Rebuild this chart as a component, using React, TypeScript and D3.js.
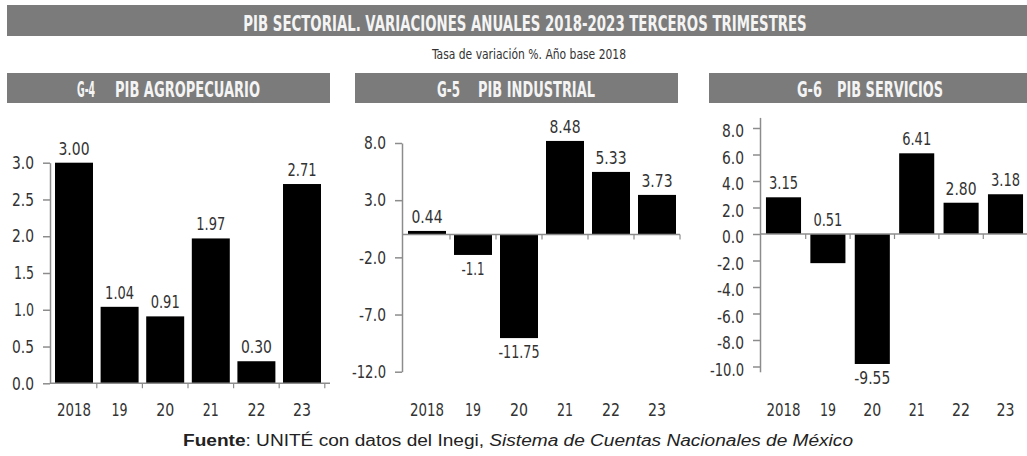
import * as d3 from "d3";
import React, { useRef, useEffect } from "react";

// data
const years = ["2018", "19", "20", "21", "22", "23"];

const agroBars = [3.0, 1.04, 0.91, 1.97, 0.3, 2.71];
const agroLabels = ["3.00", "1.04", "0.91", "1.97", "0.30", "2.71"];
const agroTicks = [0, 0.5, 1, 1.5, 2, 2.5, 3];

// bar heights as drawn in the picture (labels differ in places)
const indBars = [0.31, -1.79, -9.06, 8.18, 5.47, 3.46];
const indLabels = ["0.44", "-1.1", "-11.75", "8.48", "5.33", "3.73"];
const indTicks = [8, 3, -2, -7, -12];

const servBars = [2.77, -2.2, -9.81, 6.09, 2.36, 3.0];
const servLabels = ["3.15", "0.51", "-9.55", "6.41", "2.80", "3.18"];
const servTicks = [8, 6, 4, 2, 0, -2, -4, -6, -8, -10];

const headerCodes = ["G-4", "G-5", "G-6"];
const headerTitles = ["PIB AGROPECUARIO", "PIB INDUSTRIAL", "PIB SERVICIOS"];

const title = "PIB SECTORIAL. VARIACIONES ANUALES 2018-2023 TERCEROS TRIMESTRES";
const subtitle = "Tasa de variación %. Año base 2018";

const NARROW = "'Liberation Sans Narrow', 'DejaVu Sans Condensed', 'DejaVu Sans', sans-serif";
const GRAY = "#7b7b7b";

// rough width of a number in the condensed face of the original
const numWidth = (s: string) =>
  s.split("").reduce((w, c) => w + (c === "." ? 4 : c === "-" ? 5 : c === "1" ? 7 : 9), 0);

export default function App() {
  const ref = useRef<SVGSVGElement>(null);
  const width = 1027;
  const height = 456;

  useEffect(() => {
    const svg = d3.select(ref.current);
    svg.selectAll("*").remove();

    svg.append("rect").attr("width", width).attr("height", height).attr("fill", "#fff");

    // main title bar, text squeezed to the width of the original with a scale
    svg.append("rect").attr("x", 7).attr("y", 5).attr("width", width - 7).attr("height", 31).attr("fill", GRAY);
    const titleText = svg.append("text")
      .attr("text-anchor", "middle")
      .style("font-family", NARROW).style("font-stretch", "condensed")
      .style("font-weight", "bold").style("font-size", "21px")
      .attr("fill", "#f4f4f4")
      .text(title);
    const natural = (titleText.node() as SVGTextElement).getComputedTextLength() || 564;
    titleText.attr("transform", `translate(525,30.5) scale(${564 / natural},1)`);

    svg.append("text")
      .attr("x", 529).attr("y", 59)
      .attr("text-anchor", "middle")
      .attr("textLength", 194).attr("lengthAdjust", "spacingAndGlyphs")
      .style("font-family", NARROW).style("font-stretch", "condensed").style("font-size", "14px")
      .attr("fill", "#333")
      .text(subtitle);

    // panel headers
    const headers = [
      { x0: 7, x1: 330, codeX: [77, 95], titleX: [115, 260] },
      { x0: 355, x1: 678, codeX: [437, 460], titleX: [478, 595] },
      { x0: 709, x1: 1027, codeX: [797, 822], titleX: [837, 943] },
    ];
    headers.forEach((h, i) => {
      svg.append("rect").attr("x", h.x0).attr("y", 73).attr("width", h.x1 - h.x0).attr("height", 30).attr("fill", GRAY);
      svg.append("text")
        .attr("x", h.codeX[0]).attr("y", 97)
        .attr("textLength", h.codeX[1] - h.codeX[0]).attr("lengthAdjust", "spacingAndGlyphs")
        .style("font-family", NARROW).style("font-stretch", "condensed")
        .style("font-weight", "bold").style("font-size", "21px")
        .attr("fill", "#f4f4f4")
        .text(headerCodes[i]);
      svg.append("text")
        .attr("x", h.titleX[0]).attr("y", 97)
        .attr("textLength", h.titleX[1] - h.titleX[0]).attr("lengthAdjust", "spacingAndGlyphs")
        .style("font-family", NARROW).style("font-stretch", "condensed")
        .style("font-weight", "bold").style("font-size", "21px")
        .attr("fill", "#f4f4f4")
        .text(headerTitles[i]);
    });

    // panels
    const panels = [
      { bars: agroBars, labels: agroLabels, ticks: agroTicks, axisX: 50, band: [51.2, 324.8], pad: 0.167,
        domain: [0, 3], range: [383.3, 162.7], axisEnd: 330, labelShift: 0 },
      { bars: indBars, labels: indLabels, ticks: indTicks, axisX: 402, band: [404, 680], pad: 0.174,
        domain: [-12, 8], range: [371.7, 143], axisEnd: 680, labelShift: 0 },
      { bars: servBars, labels: servLabels, ticks: servTicks, axisX: 760, band: [761.3, 1027.7], pad: 0.21,
        domain: [-10.4, 8.8], range: [371.8, 117.4], axisEnd: 1027, labelShift: 3 },
    ];

    panels.forEach((p) => {
      const x = d3.scaleBand<string>().domain(years).range(p.band as [number, number])
        .paddingInner(p.pad).paddingOuter(p.pad / 2);
      const y = d3.scaleLinear().domain(p.domain).range(p.range);
      const g = svg.append("g");

      // y axis
      const yAxis = d3.axisLeft(y).tickValues(p.ticks).tickFormat((d) => (+d).toFixed(1))
        .tickSize(7).tickSizeOuter(0).tickPadding(9);
      const ya = g.append("g").attr("transform", `translate(${p.axisX},0)`).call(yAxis);
      ya.select(".domain").attr("stroke", "#8c8c8c").attr("stroke-width", 1.5);
      ya.selectAll(".tick line").attr("stroke", "#8c8c8c").attr("stroke-width", 1.5);
      ya.selectAll<SVGTextElement, number>(".tick text")
        .attr("dy", `${0.32 + p.labelShift / 18}em`)
        .attr("textLength", (d) => numWidth(d.toFixed(1))).attr("lengthAdjust", "spacingAndGlyphs")
        .style("font-family", NARROW).style("font-stretch", "condensed").style("font-size", "18px")
        .attr("fill", "#333");

      // bars
      g.selectAll("rect.bar").data(p.bars).enter().append("rect")
        .attr("class", "bar")
        .attr("x", (d, i) => x(years[i]) as number)
        .attr("width", x.bandwidth())
        .attr("y", (d) => y(Math.max(0, d)))
        .attr("height", (d) => Math.abs(y(d) - y(0)))
        .attr("fill", "#000");

      // zero line and category ticks
      const y0 = y(0);
      g.append("line").attr("x1", p.axisX).attr("x2", p.axisEnd).attr("y1", y0).attr("y2", y0)
        .attr("stroke", "#8c8c8c").attr("stroke-width", 1.5);
      const bounds = years.map((yr) => (x(yr) as number) - (x.step() * p.pad) / 2 + x.step());
      g.selectAll("line.cat").data(bounds).enter().append("line")
        .attr("x1", (d) => d).attr("x2", (d) => d)
        .attr("y1", y0).attr("y2", y0 + 5)
        .attr("stroke", "#8c8c8c").attr("stroke-width", 1.2);

      // value labels
      g.selectAll("text.val").data(p.labels).enter().append("text")
        .attr("x", (d, i) => (x(years[i]) as number) + x.bandwidth() / 2)
        .attr("y", (d, i) => (+d >= 0 ? y(Math.max(0, p.bars[i])) - 8 : y(Math.min(0, p.bars[i])) + 20))
        .attr("text-anchor", "middle")
        .attr("textLength", (d) => numWidth(d)).attr("lengthAdjust", "spacingAndGlyphs")
        .style("font-family", NARROW).style("font-stretch", "condensed").style("font-size", "18px")
        .attr("fill", "#333")
        .text((d) => d);

      // year labels
      g.selectAll("text.yr").data(years).enter().append("text")
        .attr("x", (d) => (x(d) as number) + x.bandwidth() / 2)
        .attr("y", 416)
        .attr("text-anchor", "middle")
        .attr("textLength", (d) => numWidth(d)).attr("lengthAdjust", "spacingAndGlyphs")
        .style("font-family", NARROW).style("font-stretch", "condensed").style("font-size", "18px")
        .attr("fill", "#333")
        .text((d) => d);
    });

    // source line
    const src = svg.append("text")
      .attr("x", 183).attr("y", 445.5)
      .attr("textLength", 670).attr("lengthAdjust", "spacingAndGlyphs")
      .style("font-family", "'Liberation Sans', Arial, sans-serif").style("font-size", "16px")
      .attr("fill", "#222");
    src.append("tspan").style("font-weight", "bold").text("Fuente");
    src.append("tspan").text(": UNITÉ con datos del Inegi, ");
    src.append("tspan").style("font-style", "italic").text("Sistema de Cuentas Nacionales de México");
  }, []);

  return (
    <svg
      ref={ref}
      width={width}
      height={height}
      style={{ position: "absolute", left: 0, top: 0, display: "block" }}
    />
  );
}
